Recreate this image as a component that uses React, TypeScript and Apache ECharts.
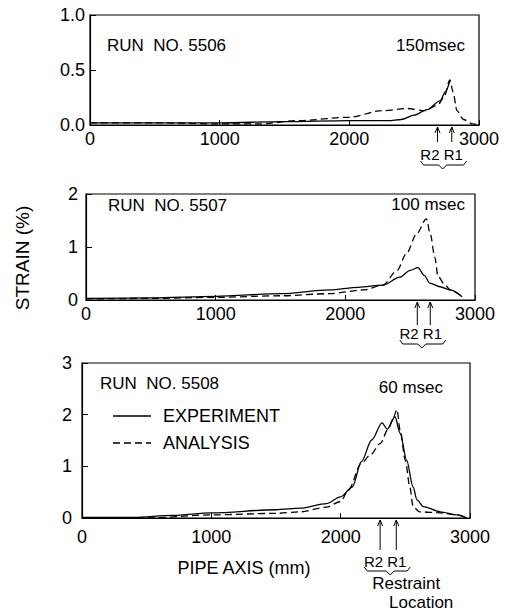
import React, { useEffect, useRef } from "react";
import * as echarts from "echarts";

// ---------- data ----------
const xTickValues = [0, 1000, 2000, 3000];
const runLabels = ["RUN  NO. 5506", "RUN  NO. 5507", "RUN  NO. 5508"];
const timeLabels = ["150msec", "100 msec", "60 msec"];
const yMaxValues = [1, 2, 3];
const yIntervals = [0.5, 1, 1];
const seriesNames = ["EXPERIMENT", "ANALYSIS"];

const exp5506 = [
  [0, 0.02], [500, 0.02], [1000, 0.02], [1500, 0.03], [2000, 0.04], [2300, 0.04],
  [2400, 0.05], [2500, 0.09], [2600, 0.14], [2700, 0.22], [2740, 0.3], [2775, 0.4],
];
const ana5506 = [
  [0, 0.02], [500, 0.02], [1000, 0.01], [1300, 0.01], [1600, 0.04], [2000, 0.07],
  [2250, 0.13], [2450, 0.15], [2580, 0.13], [2680, 0.18], [2730, 0.25], [2775, 0.41],
  [2800, 0.3], [2830, 0.13], [2880, 0.05], [2950, 0.01], [3000, 0],
];
const exp5507 = [
  [0, 0.03], [500, 0.04], [1000, 0.07], [1500, 0.12], [1880, 0.19], [2100, 0.24],
  [2290, 0.28], [2420, 0.43], [2500, 0.56], [2560, 0.61], [2610, 0.46], [2650, 0.32],
  [2730, 0.25], [2810, 0.19], [2900, 0.06],
];
const ana5507 = [
  [0, 0.02], [500, 0.03], [1000, 0.05], [1500, 0.08], [1880, 0.12], [2140, 0.19],
  [2290, 0.28], [2400, 0.56], [2470, 0.87], [2550, 1.25], [2625, 1.53], [2655, 1.25],
  [2690, 0.81], [2715, 0.44], [2770, 0.28], [2810, 0.19], [2900, 0.06],
];
const exp5508 = [
  [0, 0.01], [400, 0.01], [700, 0.05], [1000, 0.1], [1500, 0.16], [1690, 0.19],
  [1890, 0.28], [2000, 0.41], [2090, 0.6], [2160, 1.09], [2240, 1.51], [2320, 1.84],
  [2360, 1.72], [2420, 1.96], [2460, 1.64], [2510, 1.12], [2560, 0.6], [2590, 0.35],
  [2640, 0.22], [2770, 0.12], [2900, 0.06], [2975, 0],
];
const ana5508 = [
  [0, 0.0], [500, 0.0], [1000, 0.06], [1500, 0.09], [1690, 0.12], [1890, 0.21],
  [2000, 0.32], [2060, 0.54], [2160, 1.06], [2230, 1.22], [2305, 1.44], [2370, 1.73],
  [2410, 1.96], [2435, 2.1], [2460, 1.7], [2500, 1.12], [2535, 0.6], [2560, 0.22],
  [2610, 0.12], [2770, 0.1], [2900, 0.06], [2975, 0],
];
// restraint positions [R2, R1] per run
const restraint5506 = [2680, 2790];
const restraint5507 = [2555, 2655];
const restraint5508 = [2305, 2430];

const experiments = [exp5506, exp5507, exp5508];
const analyses = [ana5506, ana5507, ana5508];
const restraints = [restraint5506, restraint5507, restraint5508];

// ---------- layout ----------
const FONT = "Liberation Sans";
const DASH = [7, 4];
const grids = [
  { left: 90, top: 15, width: 389, height: 110 },
  { left: 86, top: 194, width: 389, height: 106 },
  { left: 82, top: 363, width: 388, height: 155 },
];
const xLabelMargins = [5, 5, 10];
const yLabelMargins = [5, 8, 10];
const annot = [
  { arrow: 17, label: 29, brace: 36 },
  { arrow: 25, label: 33, brace: 40 },
  { arrow: 32, label: 43, brace: 49 },
];
const runTextPos = [
  { x: 107, y: 45, tx: 465, ty: 45 },
  { x: 108, y: 205, tx: 465, ty: 204 },
  { x: 100, y: 383, tx: 443, ty: 387 },
];
const legendPos = { x1: 113, x2: 151, tx: 163, ys: [416, 443] };

const txt = (text: string, x: number, y: number, size: number, align = "left", extra: any = {}) => ({
  type: "text",
  x,
  y,
  silent: true,
  ...extra,
  style: {
    text,
    fill: "#000",
    font: `${size}px "${FONT}"`,
    align,
    textAlign: align,
    verticalAlign: "middle",
    textVerticalAlign: "middle",
  },
});

export default function App() {
  const ref = useRef<HTMLDivElement>(null);
  useEffect(() => {
    if (!ref.current) return;
    const chart = echarts.init(ref.current, undefined, { renderer: "svg" });
    const lineBase = { color: "#000", width: 1.3 };
    const series: any[] = [];
    for (let i = 0; i < 3; i++) {
      series.push({
        type: "line",
        name: seriesNames[0],
        xAxisIndex: i,
        yAxisIndex: i,
        data: experiments[i],
        symbol: "none",
        smooth: 0.3,
        smoothMonotone: "x",
        lineStyle: { ...lineBase, type: "solid" },
        itemStyle: { color: "#000" },
      });
      series.push({
        type: "line",
        name: seriesNames[1],
        xAxisIndex: i,
        yAxisIndex: i,
        data: analyses[i],
        symbol: "none",
        smooth: 0.3,
        smoothMonotone: "x",
        lineStyle: { ...lineBase, type: DASH },
        itemStyle: { color: "#000" },
      });
    }
    chart.setOption({
      animation: false,
      backgroundColor: "#fff",
      textStyle: { fontFamily: FONT, color: "#000" },
      grid: grids.map((g) => ({ ...g, show: true, borderColor: "#000", borderWidth: 1.2, backgroundColor: "transparent" })),
      xAxis: grids.map((_, i) => ({
        type: "value",
        gridIndex: i,
        min: xTickValues[0],
        max: xTickValues[xTickValues.length - 1],
        interval: xTickValues[1] - xTickValues[0],
        axisLine: { show: true, lineStyle: { color: "#000", width: 1.2 } },
        axisTick: { show: true, inside: true, length: 5, lineStyle: { color: "#000" } },
        splitLine: { show: false },
        axisLabel: {
          fontSize: 18,
          color: "#000",
          fontFamily: FONT,
          margin: xLabelMargins[i],
          showMinLabel: true,
          showMaxLabel: true,
          formatter: (v: number) => String(v),
        },
      })),
      yAxis: grids.map((_, i) => ({
        type: "value",
        gridIndex: i,
        min: 0,
        max: yMaxValues[i],
        interval: yIntervals[i],
        axisLine: { show: true, lineStyle: { color: "#000", width: 1.2 } },
        axisTick: { show: true, inside: true, length: 6, lineStyle: { color: "#000" } },
        splitLine: { show: false },
        axisLabel: {
          fontSize: 18,
          color: "#000",
          fontFamily: FONT,
          margin: yLabelMargins[i],
          formatter: (v: number) => (i === 0 ? v.toFixed(1) : String(v)),
        },
      })),
      series,
    });

    const graphics: any[] = [];
    for (let i = 0; i < 3; i++) {
      graphics.push(txt(runLabels[i], runTextPos[i].x, runTextPos[i].y, 17, "left"));
      graphics.push(txt(timeLabels[i], runTextPos[i].tx, runTextPos[i].ty, 17, "right"));
      const pts = restraints[i].map((v) => chart.convertToPixel({ gridIndex: i } as any, [v, 0]) as number[]);
      const yb = pts[0][1];
      pts.forEach((p) => {
        const x = p[0];
        const tip = yb + 2;
        graphics.push({
          type: "line",
          silent: true,
          shape: { x1: x, y1: tip, x2: x, y2: yb + annot[i].arrow },
          style: { stroke: "#000", lineWidth: 1 },
        });
        graphics.push({
          type: "polyline",
          silent: true,
          shape: { points: [[x - 2.5, tip + 6], [x, tip], [x + 2.5, tip + 6]] },
          style: { stroke: "#000", lineWidth: 1, fill: "none" },
        });
      });
      const mid = (pts[0][0] + pts[1][0]) / 2;
      graphics.push(txt("R2 R1", mid - 3, yb + annot[i].label, 15, "center"));
      const x1 = mid - 24;
      const x2 = mid + 22;
      const m = mid + (i === 2 ? 2 : -2);
      const y0 = yb + annot[i].brace;
      graphics.push({
        type: "polyline",
        silent: true,
        shape: {
          points: [[x1, y0], [x1 + 3, y0 + 4], [m - 4, y0 + 4], [m, y0 + 8], [m + 4, y0 + 4], [x2 - 3, y0 + 4], [x2, y0]],
        },
        style: { stroke: "#000", lineWidth: 1, fill: "none" },
      });
      if (i === 2) {
        graphics.push(txt("Restraint", mid + 18, yb + 65, 17, "center"));
        graphics.push(txt("Location", mid + 33, yb + 84, 17, "center"));
      }
    }
    // legend
    seriesNames.forEach((name, k) => {
      const y = legendPos.ys[k];
      graphics.push({
        type: "line",
        silent: true,
        shape: { x1: legendPos.x1, y1: y, x2: legendPos.x2, y2: y },
        style: { stroke: "#000", lineWidth: 1.3, lineDash: k === 0 ? null : DASH },
      });
      graphics.push(txt(name, legendPos.tx, y, 18, "left"));
    });
    graphics.push(txt("PIPE AXIS (mm)", 244, 568, 18, "center"));
    graphics.push(txt("STRAIN (%)", 22, 258, 19, "center", { rotation: Math.PI / 2 }));
    chart.setOption({ graphic: graphics });

    return () => chart.dispose();
  }, []);
  return <div ref={ref} style={{ position: "absolute", left: 0, top: 0, width: 505, height: 616 }} />;
}
